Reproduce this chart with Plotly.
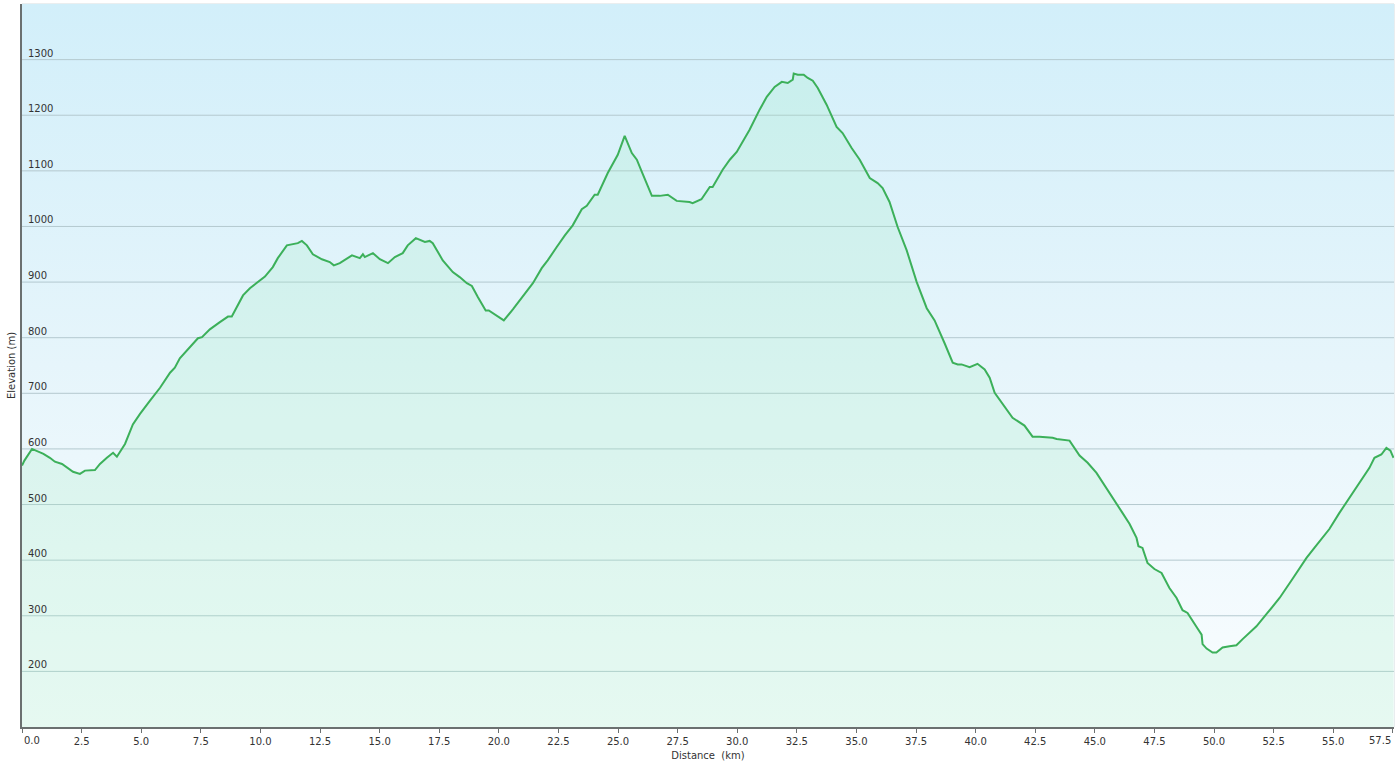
"""Elevation profile of a 57.5 km route, drawn with Plotly."""

import plotly.graph_objects as go

# Distance along the route (km) and elevation (m)
distance_km = [
    0.0, 0.1, 0.42, 0.9, 1.17, 1.38, 1.68, 2.14, 2.43, 2.64, 3.06, 3.27, 3.56,
    3.82, 3.98, 4.32, 4.65, 4.95, 5.37, 5.79, 6.21, 6.41, 6.62, 7.04, 7.38,
    7.55, 7.88, 8.30, 8.64, 8.80, 9.01, 9.27, 9.56, 9.85, 10.19, 10.52, 10.73,
    11.11, 11.36, 11.57, 11.74, 11.95, 12.20, 12.58, 12.91, 13.08, 13.33,
    13.84, 14.17, 14.30, 14.38, 14.72, 15.01, 15.35, 15.64, 15.97, 16.18,
    16.52, 16.90, 17.10, 17.23, 17.65, 18.07, 18.36, 18.66, 18.87, 19.12,
    19.45, 19.58, 19.92, 20.21, 20.59, 21.00, 21.43, 21.80, 22.05, 22.43,
    22.77, 23.10, 23.48, 23.69, 24.02, 24.15, 24.57, 24.99, 25.28, 25.58,
    25.79, 26.00, 26.42, 26.75, 27.09, 27.46, 28.00, 28.13, 28.50, 28.85,
    28.97, 29.39, 29.69, 29.98, 30.52, 30.94, 31.24, 31.57, 31.87, 32.12,
    32.33, 32.37, 32.54, 32.79, 32.96, 33.17, 33.38, 33.75, 34.17, 34.42,
    34.80, 35.14, 35.56, 35.89, 36.10, 36.39, 36.73, 37.11, 37.53, 37.95,
    38.28, 38.70, 39.04, 39.25, 39.41, 39.75, 40.08, 40.38, 40.59, 40.80,
    41.09, 41.55, 42.05, 42.39, 42.68, 43.23, 43.40, 43.94, 44.36, 44.70,
    45.07, 45.49, 45.91, 46.16, 46.46, 46.75, 46.83, 47.00, 47.21, 47.50,
    47.80, 48.13, 48.43, 48.68, 48.89, 49.10, 49.31, 49.48, 49.52, 49.69,
    49.94, 50.10, 50.36, 50.65, 50.94, 51.20, 51.49, 51.78, 52.24, 52.75,
    53.29, 53.88, 54.21, 54.72, 54.84, 55.26, 55.68, 56.18, 56.52, 56.73,
    57.02, 57.23, 57.40, 57.53,
]
elevation_m = [
    570, 579, 600, 591, 584, 577, 573, 559, 555, 561, 562, 573, 584,
    593, 586, 609, 644, 663, 687, 710, 737, 746, 763, 782, 799,
    801, 815, 828, 838, 838, 855, 876, 889, 898, 910, 927, 943,
    966, 968, 970, 974, 966, 950, 941, 936, 930, 934,
    948, 943, 950, 945, 952, 941, 934, 945, 952, 966,
    979, 972, 974, 970, 939, 918, 909, 898, 893, 873,
    849, 849, 840, 831, 851, 873, 898, 925, 939, 963,
    984, 1002, 1031, 1037, 1057, 1057, 1096, 1129, 1163, 1132,
    1120, 1098, 1055, 1055, 1057, 1046, 1044, 1042, 1049, 1071,
    1071, 1102, 1120, 1134, 1174, 1210, 1233, 1251, 1260, 1258,
    1264, 1275, 1273, 1273, 1267, 1262, 1249, 1219, 1179, 1168,
    1141, 1120, 1087, 1078, 1069, 1044, 999, 957, 900, 853,
    831, 790, 755, 752, 752, 747, 753, 743, 728, 701,
    683, 656, 642, 622, 622, 620, 618, 615, 588, 575,
    557, 530, 501, 485, 465, 440, 425, 422, 395, 384,
    377, 350, 332, 310, 305, 290, 277, 266, 249, 241,
    234, 234, 243, 245, 247, 258, 269, 281, 305, 332,
    366, 404, 422, 449, 456, 485, 512, 543, 566, 584,
    590, 602, 597, 584,
]

x_range = [0, 57.55]
y_range = [100, 1400]
x_ticks = [0, 2.5, 5, 7.5, 10, 12.5, 15, 17.5, 20, 22.5, 25, 27.5, 30, 32.5,
           35, 37.5, 40, 42.5, 45, 47.5, 50, 52.5, 55, 57.5]
y_ticks = [200, 300, 400, 500, 600, 700, 800, 900, 1000, 1100, 1200, 1300]

FONT = "DejaVu Sans, Verdana, sans-serif"
TEXT = "#333333"
AXIS = "#6b7070"

# the first and last x labels are drawn as annotations, anchored inward
x_labels = [f"{t:.1f}" for t in x_ticks]
axis_labels = [""] + x_labels[1:-1] + [""]

fig = go.Figure()

# sky gradient behind everything
fig.add_trace(go.Scatter(
    x=x_range, y=[y_range[1], y_range[1]],
    mode="lines", line=dict(width=0),
    fill="tozeroy",
    fillgradient=dict(
        type="vertical",
        colorscale=[[0, "#fafdff"], [0.5, "#e6f5fb"], [1, "#d2effa"]],
        start=y_range[0], stop=y_range[1],
    ),
    hoverinfo="skip", showlegend=False,
))

# gridlines as traces so they sit above the sky but under the profile
for v in y_ticks:
    fig.add_trace(go.Scatter(
        x=x_range, y=[v, v], mode="lines",
        line=dict(color="#b4c9cf", width=1),
        hoverinfo="skip", showlegend=False,
    ))

fig.add_trace(go.Scatter(
    x=distance_km, y=elevation_m,
    mode="lines",
    line=dict(color="#3cb05a", width=2),
    fill="tozeroy",
    fillcolor="rgba(160,235,190,0.22)",
    hovertemplate="%{x:.1f} km<br>%{y} m<extra></extra>",
    showlegend=False,
))

# y tick labels sit inside the plot, just above each gridline
annotations = [
    dict(x=0, xref="paper", y=v, yref="y", text=str(v), showarrow=False,
         xanchor="left", yanchor="bottom", xshift=4, yshift=-1,
         font=dict(size=10, color=TEXT))
    for v in y_ticks
]
for tick, label, anchor in [(x_ticks[0], x_labels[0], "left"),
                            (x_ticks[-1], x_labels[-1], "right")]:
    annotations.append(dict(
        x=tick, xref="x", y=0, yref="paper", text=label, showarrow=False,
        xanchor=anchor, yanchor="top", yshift=-6,
        font=dict(size=10, color=TEXT),
    ))

fig.update_layout(
    width=1400, height=765,
    margin=dict(l=22, r=6, t=4, b=38),
    paper_bgcolor="white",
    plot_bgcolor="white",
    font=dict(family=FONT, size=10, color=TEXT),
    annotations=annotations,
    shapes=[dict(
        type="rect", xref="paper", yref="paper", x0=0, x1=1, y0=0, y1=1,
        line=dict(color="#d4dcdf", width=1), layer="below",
    )],
)

fig.update_xaxes(
    range=x_range,
    tickvals=x_ticks,
    ticktext=axis_labels,
    showgrid=False, zeroline=False,
    showline=True, linecolor=AXIS, linewidth=2,
    ticks="outside", ticklen=4, tickcolor=AXIS,
    tickfont=dict(size=10, color=TEXT),
    title=dict(text="Distance\u00a0 (km)", font=dict(size=10, color=TEXT),
               standoff=6),
    automargin=False,
    layer="above traces",
)

fig.update_yaxes(
    range=y_range,
    showticklabels=False, ticks="",
    showgrid=False, zeroline=False,
    showline=True, linecolor=AXIS, linewidth=2,
    title=dict(text="Elevation (m)", font=dict(size=10, color=TEXT),
               standoff=3),
    automargin=False,
    layer="above traces",
)

# drop the default page margin so the figure fills the window
fig.write_html(
    "out.html",
    config={"displayModeBar": False},
    post_script="document.body.style.margin='0';",
)
